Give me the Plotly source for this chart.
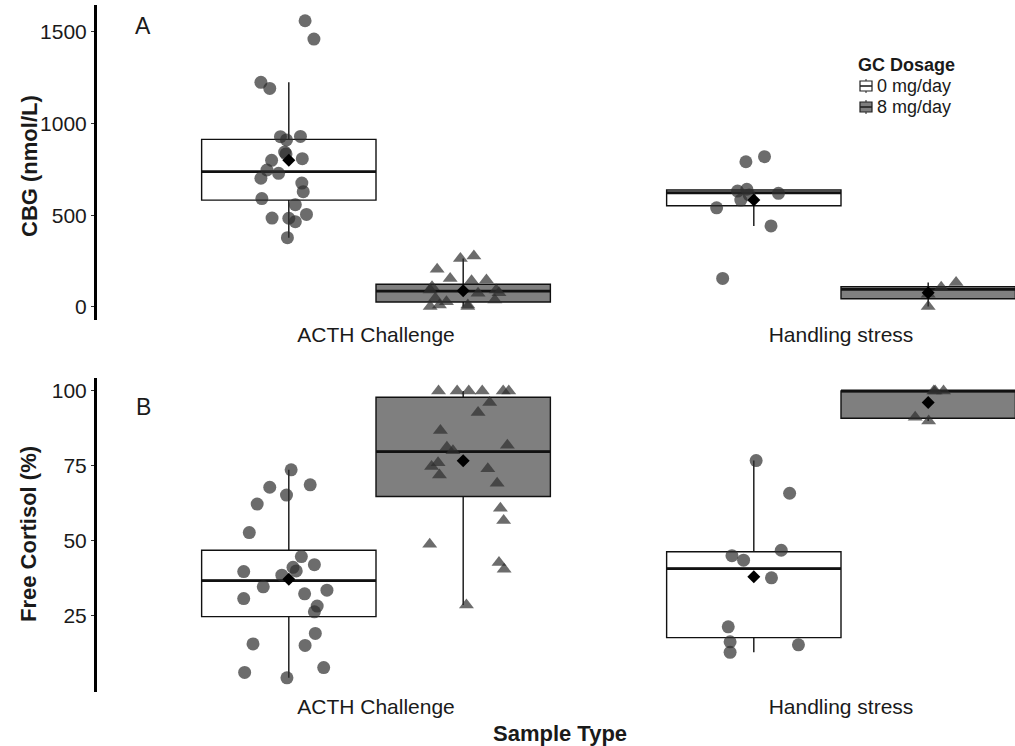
import plotly.graph_objects as go

# ---------------- data ----------------
categories = ["ACTH Challenge", "Handling stress"]
dosages = ["0 mg/day", "8 mg/day"]

# Panel A: CBG (nmol/L) individual observations + horizontal jitter (category units)
cbg_acth_0mg = [1561, 1461, 1225, 1192, 929, 911, 930, 845, 835, 809, 800, 747, 729,
                702, 676, 629, 591, 558, 505, 485, 484, 465, 378]
cbg_acth_0mg_jit = [0.035, 0.054, -0.060, -0.041, -0.018, -0.005, 0.025, -0.009, -0.006,
                    0.029, -0.037, -0.047, -0.022, -0.060, 0.028, 0.031, -0.058, 0.014,
                    0.038, -0.036, 0.000, 0.014, -0.003]
cbg_acth_8mg = [265, 278, 206, 156, 143, 147, 111, 93, 75, 93, 78, 47, 29, 38, 2, 11, 11, 2]
cbg_acth_8mg_jit = [-0.006, 0.023, -0.056, -0.028, 0.018, 0.050, -0.067, -0.071, 0.032,
                    0.071, 0.077, -0.060, -0.036, 0.068, -0.071, -0.051, 0.010, 0.010]
cbg_hs_0mg = [792, 820, 632, 642, 583, 620, 611, 541, 442, 156]
cbg_hs_0mg_jit = [-0.017, 0.023, -0.035, -0.015, -0.028, 0.053, -0.010, -0.080, 0.037, -0.067]
cbg_hs_8mg = [107, 133, 2, 70]
cbg_hs_8mg_jit = [0.028, 0.060, 0.000, 0.000]

# Panel B: Free cortisol (%)
fc_acth_0mg = [73.7, 67.9, 68.7, 65.3, 62.3, 52.8, 44.8, 42.1, 39.8, 41.2, 40.0, 38.6,
               34.7, 33.6, 32.4, 30.8, 28.3, 26.4, 19.2, 15.7, 15.2, 7.8, 6.2, 4.4]
fc_acth_0mg_jit = [0.005, -0.041, 0.046, -0.005, -0.068, -0.085, 0.027, 0.055, -0.097,
                   0.009, 0.016, -0.015, -0.055, 0.082, 0.034, -0.097, 0.061, 0.055,
                   0.057, -0.077, 0.035, 0.075, -0.095, -0.004]
fc_acth_8mg = [100, 100, 100, 100, 100, 100, 96.1, 92.8, 86.8, 81.2, 80.1, 81.9, 76.1,
               74.8, 72.0, 74.1, 69.2, 60.9, 56.8, 48.9, 42.8, 40.6, 28.7]
fc_acth_8mg_jit = [-0.053, -0.013, 0.012, 0.041, 0.086, 0.098, 0.057, 0.032, -0.049,
                   -0.035, -0.022, 0.095, -0.054, -0.068, -0.051, 0.053, 0.073, 0.080,
                   0.087, -0.072, 0.077, 0.088, 0.007]
fc_hs_0mg = [76.8, 65.9, 46.9, 45.1, 43.6, 37.7, 21.4, 16.4, 15.4, 12.9]
fc_hs_0mg_jit = [0.005, 0.077, 0.059, -0.047, -0.022, 0.038, -0.055, -0.051, 0.096, -0.051]
fc_hs_8mg = [100, 100, 100, 91.2, 90.0]
fc_hs_8mg_jit = [0.012, 0.033, 0.015, -0.028, 0.001]

# Box statistics per category (ACTH Challenge, Handling stress)
cbg_q1_0mg = [583, 552]
cbg_med_0mg = [738, 623]
cbg_q3_0mg = [914, 638]
cbg_lo_0mg = [378, 442]
cbg_hi_0mg = [1225, 642]
cbg_mean_0mg = [800, 583]
cbg_q1_8mg = [27, 45]
cbg_med_8mg = [87, 96]
cbg_q3_8mg = [124, 111]
cbg_lo_8mg = [2, 2]
cbg_hi_8mg = [265, 133]
cbg_mean_8mg = [89, 78]

fc_q1_0mg = [24.8, 17.8]
fc_med_0mg = [36.8, 40.8]
fc_q3_0mg = [46.9, 46.4]
fc_lo_0mg = [4.4, 12.9]
fc_hi_0mg = [73.7, 76.8]
fc_mean_0mg = [37.2, 38.1]
fc_q1_8mg = [64.8, 90.9]
fc_med_8mg = [79.8, 100]
fc_q3_8mg = [97.9, 100]
fc_lo_8mg = [28.7, 90.0]
fc_hi_8mg = [100, 100]
fc_mean_8mg = [76.7, 96.1]

cbg_ticks = [0, 500, 1000, 1500]
fc_ticks = [25, 50, 75, 100]

# ---------------- styling / layout constants ----------------
W, H = 1015, 746
FONT = "Liberation Sans, Arial, Helvetica, sans-serif"
TXT = "#1a1a1a"
DODGE = 0.1875
BOXW = 0.375
cat_pos = {c: i + 1 for i, c in enumerate(categories)}
offsets = {"0 mg/day": -DODGE, "8 mg/day": DODGE}
fills = {"0 mg/day": "white", "8 mg/day": "#7f7f7f"}
symbols = {"0 mg/day": "circle", "8 mg/day": "triangle-up"}
PT_COLOR = "rgba(45,45,45,0.7)"


def px(x):
    return x / W


def py(y):
    return 1 - y / H


fig = go.Figure()


def add_panel(xa, ya, stats, points):
    for dose in dosages:
        st = stats[dose]
        xs = [cat_pos[c] + offsets[dose] for c in categories]
        fig.add_trace(go.Box(
            x=xs, q1=st["q1"], median=st["med"], q3=st["q3"],
            lowerfence=st["lo"], upperfence=st["hi"], width=BOXW,
            fillcolor=fills[dose], line=dict(color="#111111", width=1.4),
            whiskerwidth=0, boxpoints=False, name=dose, legendgroup=dose,
            showlegend=False, xaxis=xa, yaxis=ya, hoverinfo="skip"))
    for dose in dosages:
        st = stats[dose]
        mx, my = [], []
        for i, c in enumerate(categories):
            cx = cat_pos[c] + offsets[dose]
            mx += [cx - BOXW / 2, cx + BOXW / 2, None]
            my += [st["med"][i], st["med"][i], None]
        fig.add_trace(go.Scatter(x=mx, y=my, mode="lines",
                                 line=dict(color="#111111", width=2.8),
                                 showlegend=False, xaxis=xa, yaxis=ya, hoverinfo="skip"))
    for (cat, dose), (vals, jit) in points.items():
        cx = cat_pos[cat] + offsets[dose]
        fig.add_trace(go.Scatter(
            x=[cx + j for j in jit], y=vals, mode="markers",
            marker=dict(symbol=symbols[dose], size=13, color=PT_COLOR,
                        line=dict(width=0)),
            showlegend=False, xaxis=xa, yaxis=ya, hoverinfo="skip"))
    for dose in dosages:
        xs = [cat_pos[c] + offsets[dose] for c in categories]
        fig.add_trace(go.Scatter(
            x=xs, y=stats[dose]["mean"], mode="markers",
            marker=dict(symbol="diamond", size=10, color="black"),
            showlegend=False, xaxis=xa, yaxis=ya, hoverinfo="skip"))


cbg_stats = {
    "0 mg/day": dict(q1=cbg_q1_0mg, med=cbg_med_0mg, q3=cbg_q3_0mg, lo=cbg_lo_0mg,
                     hi=cbg_hi_0mg, mean=cbg_mean_0mg),
    "8 mg/day": dict(q1=cbg_q1_8mg, med=cbg_med_8mg, q3=cbg_q3_8mg, lo=cbg_lo_8mg,
                     hi=cbg_hi_8mg, mean=cbg_mean_8mg),
}
cbg_pts = {
    ("ACTH Challenge", "0 mg/day"): (cbg_acth_0mg, cbg_acth_0mg_jit),
    ("ACTH Challenge", "8 mg/day"): (cbg_acth_8mg, cbg_acth_8mg_jit),
    ("Handling stress", "0 mg/day"): (cbg_hs_0mg, cbg_hs_0mg_jit),
    ("Handling stress", "8 mg/day"): (cbg_hs_8mg, cbg_hs_8mg_jit),
}
fc_stats = {
    "0 mg/day": dict(q1=fc_q1_0mg, med=fc_med_0mg, q3=fc_q3_0mg, lo=fc_lo_0mg,
                     hi=fc_hi_0mg, mean=fc_mean_0mg),
    "8 mg/day": dict(q1=fc_q1_8mg, med=fc_med_8mg, q3=fc_q3_8mg, lo=fc_lo_8mg,
                     hi=fc_hi_8mg, mean=fc_mean_8mg),
}
fc_pts = {
    ("ACTH Challenge", "0 mg/day"): (fc_acth_0mg, fc_acth_0mg_jit),
    ("ACTH Challenge", "8 mg/day"): (fc_acth_8mg, fc_acth_8mg_jit),
    ("Handling stress", "0 mg/day"): (fc_hs_0mg, fc_hs_0mg_jit),
    ("Handling stress", "8 mg/day"): (fc_hs_8mg, fc_hs_8mg_jit),
}

add_panel("x", "y", cbg_stats, cbg_pts)
add_panel("x2", "y2", fc_stats, fc_pts)

xrange = [0.4, 0.4 + (W - 97) / 465.0]
tickfont = dict(family=FONT, size=21, color=TXT)


def xaxis_cfg(anchor):
    return dict(domain=[px(97), 1], range=xrange, anchor=anchor, automargin=False,
                tickmode="array", tickvals=[cat_pos[c] for c in categories],
                ticktext=categories, showline=False, showgrid=False,
                zeroline=False, ticks="", tickfont=tickfont)


def yaxis_cfg(anchor, top_px, bot_px, rng, ticks):
    return dict(domain=[py(bot_px), py(top_px)], range=rng, anchor=anchor,
                automargin=False, tickmode="array", tickvals=ticks, showline=True,
                linewidth=3, linecolor="black", ticks="outside", ticklen=3,
                tickwidth=1, tickcolor="#333333", showgrid=False, zeroline=False,
                tickfont=tickfont)


# ---- legend (drawn as text + small box glyphs) ----
LEG_FONT = 18
legend_items = [("0 mg/day", 86), ("8 mg/day", 107)]
shapes = []
for dose, ly in legend_items:
    x0, x1 = 860, 872
    shapes.append(dict(type="line", xref="paper", yref="paper",
                       x0=px(866), x1=px(866), y0=py(ly - 7), y1=py(ly + 7),
                       line=dict(color="#222", width=1)))
    shapes.append(dict(type="rect", xref="paper", yref="paper",
                       x0=px(x0), x1=px(x1), y0=py(ly - 5), y1=py(ly + 5),
                       fillcolor=fills[dose], line=dict(color="#222", width=1.2)))
    shapes.append(dict(type="line", xref="paper", yref="paper",
                       x0=px(x0), x1=px(x1), y0=py(ly), y1=py(ly),
                       line=dict(color="#222", width=1.6)))


def ann(text, x, y, size, angle=0, xanchor="center"):
    return dict(text=text, x=px(x), y=py(y), xref="paper", yref="paper",
                xanchor=xanchor, yanchor="middle", showarrow=False, textangle=angle,
                borderpad=0, font=dict(family=FONT, size=size, color=TXT))


annotations = [
    ann("A", 143, 26, 23),
    ann("B", 143, 407, 23),
    ann("<b>CBG (nmol/L)</b>", 29, 166, 22, -90),
    ann("<b>Free Cortisol (%)</b>", 28, 534, 22, -90),
    ann("<b>Sample Type</b>", 560, 733, 22),
    ann("<b>GC Dosage</b>", 857, 65, LEG_FONT, xanchor="left"),
]
for dose, ly in legend_items:
    annotations.append(ann(dose, 876, ly, LEG_FONT, xanchor="left"))

fig.update_layout(
    width=W, height=H,
    margin=dict(l=0, r=0, t=0, b=0, autoexpand=False),
    paper_bgcolor="white", plot_bgcolor="white",
    boxmode="overlay",
    font=dict(family=FONT, color=TXT),
    xaxis=xaxis_cfg("y"),
    yaxis=yaxis_cfg("x", 5, 320, [-71, 1647], cbg_ticks),
    xaxis2=xaxis_cfg("y2"),
    yaxis2=yaxis_cfg("x2", 378, 692, [-0.33, 104.3], fc_ticks),
    showlegend=False,
    hovermode=False,
    shapes=shapes,
    annotations=annotations,
)

fig.write_html("out.html",
               config={"displayModeBar": False, "staticPlot": True},
               post_script="document.body.style.margin='0';document.body.style.overflow='hidden';")
